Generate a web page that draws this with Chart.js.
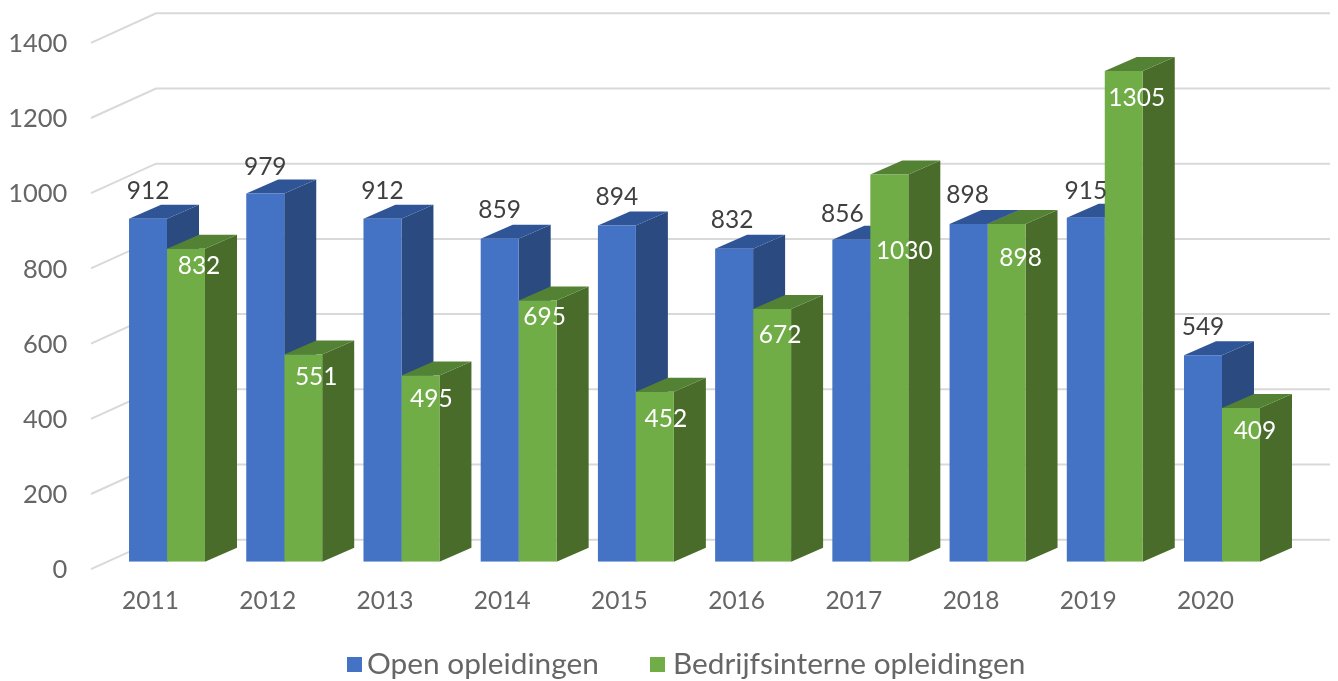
<!DOCTYPE html>
<html>
<head>
<meta charset="utf-8">
<script src="https://cdn.jsdelivr.net/npm/chart.js@4/dist/chart.umd.min.js"></script>
<style>
  html, body { margin: 0; padding: 0; background: #fff; overflow: hidden; }
  #wrap { position: relative; width: 1338px; height: 681px; }
  #legend { position: absolute; left: 347px; top: 645px; font: 29.8px Lato, sans-serif; line-height: 36px; color: #666666; white-space: nowrap; }
  .legend-item { position: absolute; top: 0; }
  .legend-dot { position: absolute; left: 0; top: 12px; width: 15px; height: 15px; }
  .legend-text { position: absolute; top: 0; }
</style>
</head>
<body>
<div id="wrap">
  <canvas id="chart" width="1338" height="681"></canvas>
  <div id="legend"></div>
</div>
<script>
var years = ['2011', '2012', '2013', '2014', '2015', '2016', '2017', '2018', '2019', '2020'];
var seriesNames = ['Open opleidingen', 'Bedrijfsinterne opleidingen'];
var openValues = [912, 979, 912, 859, 894, 832, 856, 898, 915, 549];
var internValues = [832, 551, 495, 695, 452, 672, 1030, 898, 1305, 409];

// hand-placed data labels in the original, px from the top centre of the bar
var openLabelDx = [0, 0, 0, 0, 0, -2, -9, -1, 0, 0];
var openLabelDy = [-28, -27, -28, -29, -28, -29, -26, -29, -27, -28];
var internLabelDx = [13, 13, 11, 7, 11, 8, 15, 14, 13, 14];
var internLabelDy = [17, 23, 24, 17, 27, 26, 77, 34, 27, 23];

var COLORS = {
  blue: '#4472c4', blueTop: '#2f5597', blueSide: '#2a4a80',
  green: '#70ad47', greenTop: '#548235', greenSide: '#4a6c2a',
  grid: '#d9d9d9', tick: '#666666', label: '#404040'
};

var FONT = 'Lato, sans-serif';
var DEPTH_X = 32, DEPTH_Y = 14;   // bar depth
var AREA_BOTTOM = 561.7;

function poly(ctx, pts, color) {
  ctx.fillStyle = color;
  ctx.beginPath();
  ctx.moveTo(pts[0][0], pts[0][1]);
  for (var i = 1; i < pts.length; i++) ctx.lineTo(pts[i][0], pts[i][1]);
  ctx.closePath();
  ctx.fill();
}

// Back wall, side wall and the depth faces of the bars
var depthPlugin = {
  id: 'depth',
  beforeDatasetsDraw: function(chart) {
    var ctx = chart.ctx;
    var yScale = chart.scales.y;
    ctx.save();
    ctx.strokeStyle = COLORS.grid;
    ctx.lineWidth = 2;
    yScale.ticks.forEach(function(t) {
      var y = yScale.getPixelForValue(t.value);
      ctx.beginPath();
      ctx.moveTo(91, y + 7.5);
      ctx.lineTo(156, y - 22);
      ctx.lineTo(1330, y - 22);
      ctx.stroke();
    });

    var faces = [[COLORS.blueTop, COLORS.blueSide], [COLORS.greenTop, COLORS.greenSide]];
    faces.forEach(function(f, ds) {
      chart.getDatasetMeta(ds).data.forEach(function(bar) {
        var l = bar.x - bar.width / 2, r = bar.x + bar.width / 2;
        poly(ctx, [[r, bar.y], [r + DEPTH_X, bar.y - DEPTH_Y], [r + DEPTH_X, bar.base - DEPTH_Y], [r, bar.base]], f[1]);
        poly(ctx, [[l, bar.y], [l + DEPTH_X, bar.y - DEPTH_Y], [r + DEPTH_X, bar.y - DEPTH_Y], [r, bar.y]], f[0]);
      });
    });
    ctx.restore();
  },
  afterDatasetsDraw: function(chart) {
    var ctx = chart.ctx;
    ctx.save();
    ctx.font = '24.5px ' + FONT;
    ctx.textAlign = 'center';
    ctx.textBaseline = 'middle';
    chart.getDatasetMeta(0).data.forEach(function(bar, i) {
      ctx.fillStyle = COLORS.label;
      ctx.fillText(openValues[i], bar.x + openLabelDx[i], bar.y + openLabelDy[i]);
    });
    chart.getDatasetMeta(1).data.forEach(function(bar, i) {
      ctx.fillStyle = '#ffffff';
      ctx.fillText(internValues[i], bar.x + internLabelDx[i], bar.y + internLabelDy[i]);
    });
    ctx.restore();
  }
};

new Chart(document.getElementById('chart'), {
  type: 'bar',
  data: {
    labels: years,
    datasets: [
      { label: seriesNames[0], data: openValues, backgroundColor: COLORS.blue },
      { label: seriesNames[1], data: internValues, backgroundColor: COLORS.green }
    ]
  },
  plugins: [depthPlugin],
  options: {
    responsive: false,
    animation: false,
    layout: { padding: { left: 0, right: 57.4, top: 35.3, bottom: 0 } },
    categoryPercentage: 0.648,
    barPercentage: 1,
    plugins: {
      tooltip: { enabled: false },
      legend: { display: false }
    },
    scales: {
      x: {
        grid: { display: false },
        border: { display: false },
        afterFit: function(scale) { scale.height = 681 - AREA_BOTTOM; },
        ticks: {
          color: COLORS.tick, font: { family: FONT, size: 24.5 },
          padding: 17, labelOffset: -16.5, maxRotation: 0
        }
      },
      y: {
        min: 0,
        max: 1400,
        grid: { display: false },
        border: { display: false },
        afterFit: function(scale) {
          scale.width = 108.4;
          scale.paddingTop = 0;
          scale.paddingBottom = 0;
        },
        ticks: {
          stepSize: 200, color: COLORS.tick, font: { family: FONT, size: 25.5 },
          padding: 33, labelOffset: 8.5,
          callback: function(v) { return String(v); }
        }
      }
    }
  }
});

// Légende manuelle
var legendEl = document.getElementById('legend');
var legendColors = [COLORS.blue, COLORS.green];
var legendLefts = [0, 303];
var legendGaps = [20, 23];
seriesNames.forEach(function(name, i) {
  var item = document.createElement('div');
  item.className = 'legend-item';
  item.style.left = legendLefts[i] + 'px';
  item.innerHTML = '<span class="legend-dot" style="background:' + legendColors[i] + '"></span>' +
                   '<span class="legend-text" style="left:' + legendGaps[i] + 'px">' + name + '</span>';
  legendEl.appendChild(item);
});
</script>
</body>
</html>
